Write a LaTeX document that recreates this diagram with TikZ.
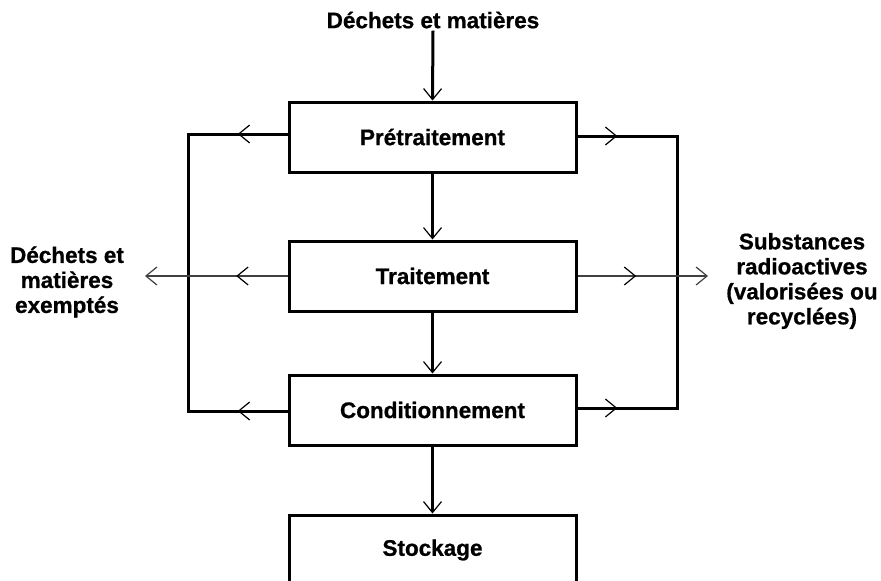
\documentclass[tikz,border=0pt]{standalone}
\usepackage{fontspec}
\setmainfont{Liberation Sans}[BoldFeatures={FakeBold=0.8}]
\usetikzlibrary{arrows.meta,decorations.markings}
\begin{document}
\begin{tikzpicture}[x=1pt,y=-1pt,
  font=\fontsize{22.5}{25}\selectfont\bfseries,
  stepbox/.style={draw,line width=3pt,minimum width=287pt,minimum height=70pt,inner sep=0pt},
  thickline/.style={line width=3pt,line cap=rect},
  thinline/.style={line width=1.6pt,draw=black!75},
  midarrow/.style={postaction={decorate,decoration={markings,mark=at position #1 with {\arrow[black]{Straight Barb[length=11pt,width=18pt,line width=1.2pt]}}}}},
  endarrow/.style={-{Straight Barb[length=11pt,width=18pt,line width=1.2pt]}}
]
\useasboundingbox (0,0) rectangle (881,581);
\begin{scope}
\clip (0,0) rectangle (881,581);
\node[stepbox] (pre) at (432.5,137) {Prétraitement};
\node[stepbox] (tra) at (432.5,276) {Traitement};
\node[stepbox] (con) at (432.5,410) {Conditionnement};
\node[stepbox] (sto) at (432.5,550) {Stockage};

\node[inner sep=2pt] (in) at (433,20) {Déchets et matières};
\node[align=center] (ex) at (67,282) {Déchets et\\matières\\exemptés};
\node[align=center] (sub) at (802,281) {Substances\\radioactives\\(valorisées ou\\recyclées)};

\coordinate (L1) at (188,134);
\coordinate (L3) at (188,411);
\coordinate (R1) at (677,136);
\coordinate (R3) at (677,408);
\coordinate (Lend) at (145,276);
\coordinate (Rend) at (708,276);

% main flow
\draw[line width=3pt,endarrow] (in.south) -- (pre.north);
\draw[line width=3pt,endarrow] (pre.south) -- (tra.north);
\draw[line width=3pt,endarrow] (tra.south) -- (con.north);
\draw[line width=3pt,endarrow] (con.south) -- (sto.north);

% left loop
\draw[thickline,midarrow=0.5] (pre.west |- L1) -- (L1);
\draw[thickline] (L1) -- (L3);
\draw[thickline,midarrow=0.5] (con.west |- L3) -- (L3);
\draw[thinline,midarrow=0.36,endarrow] (tra.west) -- (Lend);

% right loop
\draw[thickline,midarrow=0.4] (pre.east |- R1) -- (R1);
\draw[thickline] (R1) -- (R3);
\draw[thickline,midarrow=0.4] (con.east |- R3) -- (R3);
\draw[thinline,midarrow=0.45,endarrow] (tra.east) -- (Rend);
\end{scope}
\end{tikzpicture}
\end{document}
